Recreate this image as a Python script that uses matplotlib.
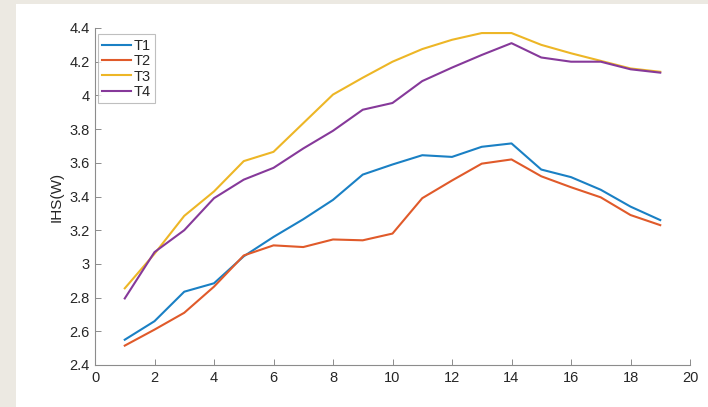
import matplotlib
matplotlib.use("Agg")
import matplotlib.pyplot as plt
from matplotlib.patches import Rectangle

x = list(range(1, 20))
t1 = [2.55, 2.66, 2.835, 2.885, 3.045, 3.16, 3.265, 3.38, 3.53, 3.59, 3.645, 3.635, 3.695, 3.715, 3.56, 3.515, 3.44, 3.34, 3.26]
t2 = [2.515, 2.61, 2.71, 2.865, 3.05, 3.11, 3.10, 3.145, 3.14, 3.18, 3.39, 3.495, 3.595, 3.62, 3.52, 3.455, 3.395, 3.29, 3.23]
t3 = [2.855, 3.06, 3.285, 3.43, 3.61, 3.665, 3.835, 4.005, 4.105, 4.2, 4.275, 4.33, 4.37, 4.37, 4.3, 4.25, 4.205, 4.16, 4.14]
t4 = [2.795, 3.07, 3.2, 3.39, 3.50, 3.57, 3.685, 3.79, 3.915, 3.955, 4.085, 4.165, 4.24, 4.31, 4.225, 4.2, 4.2, 4.155, 4.135]
series = {"T1": t1, "T2": t2, "T3": t3, "T4": t4}
colors = ["#1a80c4", "#e05a2a", "#edb626", "#86399a"]
xticks = list(range(0, 21, 2))
yticks = [2.4, 2.6, 2.8, 3.0, 3.2, 3.4, 3.6, 3.8, 4.0, 4.2, 4.4]
ytick_labels = ["2.4", "2.6", "2.8", "3", "3.2", "3.4", "3.6", "3.8", "4", "4.2", "4.4"]

plt.rcParams["font.family"] = ["Liberation Sans", "DejaVu Sans"]

fig = plt.figure(figsize=(7.08, 4.07), dpi=100)
fig.patch.set_facecolor("#ece9e2")
panel = Rectangle((16 / 708, 0), 1 - 16 / 708, 1 - 4 / 407,
                  transform=fig.transFigure, facecolor="white",
                  edgecolor="none", zorder=-10)
fig.add_artist(panel)

ax = fig.add_axes([95 / 708, 42 / 407, 595 / 708, 337 / 407])
ax.set_zorder(1)
ax.set_facecolor("white")
for (name, vals), c in zip(series.items(), colors):
    ax.plot(x, vals, color=c, lw=1.5, label=name)

ax.set_xlim(0, 20)
ax.set_ylim(2.4, 4.4)
ax.set_xticks(xticks)
ax.set_yticks(yticks)
ax.set_yticklabels(ytick_labels)
ax.spines["top"].set_visible(False)
ax.spines["right"].set_visible(False)
for s in ("left", "bottom"):
    ax.spines[s].set_color("#8c8c8c")
    ax.spines[s].set_linewidth(0.8)
ax.tick_params(direction="in", length=4, width=0.7, color="#8c8c8c",
               labelsize=10.5, labelcolor="#262626", pad=4)
ax.set_ylabel("IHS(W)", fontsize=11, color="#262626", labelpad=4)

leg = ax.legend(loc="upper left", bbox_to_anchor=(0.0, 0.99), fontsize=10.5,
                handlelength=2.0, handletextpad=0.15, borderpad=0.3,
                labelspacing=0.1, frameon=True, fancybox=False,
                borderaxespad=0.2)
leg.get_frame().set_edgecolor("#b0b0b0")
leg.get_frame().set_linewidth(0.8)
for t in leg.get_texts():
    t.set_color("#262626")

fig.savefig("out.png", dpi=100, facecolor=fig.get_facecolor())
